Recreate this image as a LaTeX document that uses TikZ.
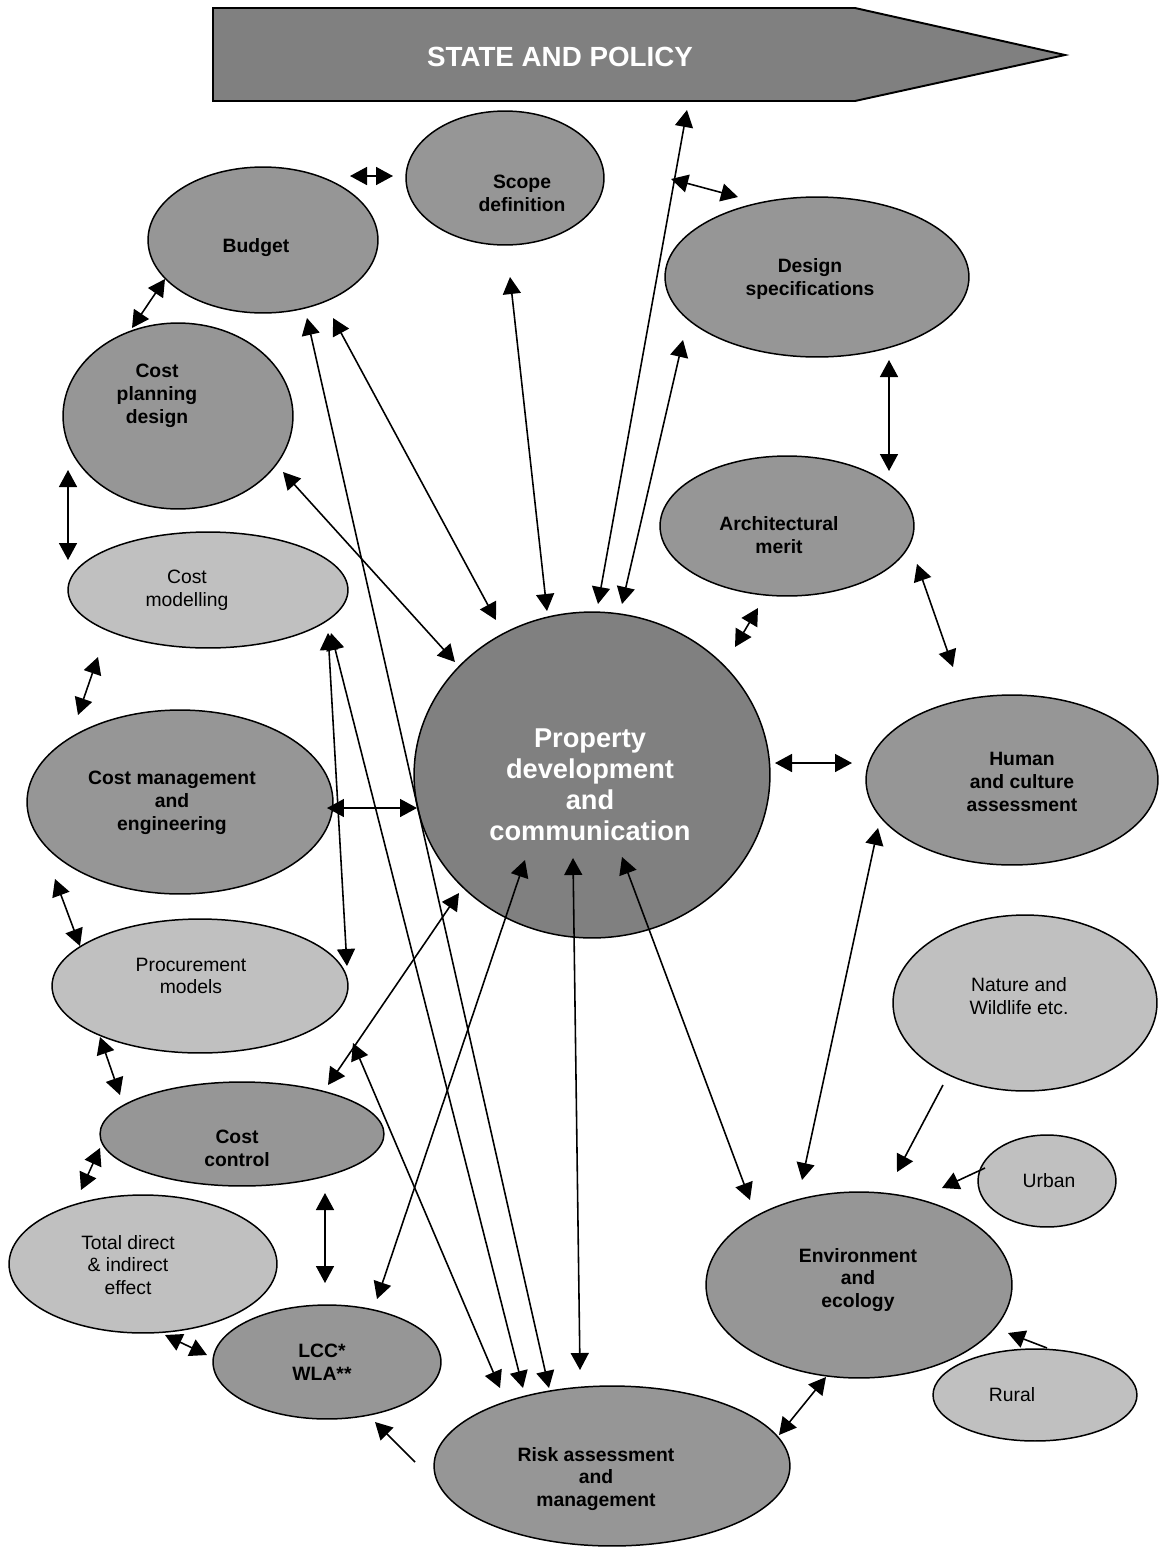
\documentclass[tikz,border=0pt]{standalone}
\usepackage{fontspec}
\setmainfont{Liberation Sans}
\usetikzlibrary{arrows.meta,shapes.geometric}

\definecolor{dkgray}{HTML}{969696}
\definecolor{mdgray}{HTML}{808080}
\definecolor{ltgray}{HTML}{C0C0C0}

\tikzset{
  oval/.style 2 args={ellipse, draw=black, line width=0.85pt, inner sep=0pt,
    minimum width=#1*0.04cm, minimum height=#2*0.04cm},
  dk/.style={fill=dkgray},
  md/.style={fill=mdgray},
  lt/.style={fill=ltgray},
  bl/.style={font=\fontsize{11}{13}\selectfont\bfseries, align=center, inner sep=0pt},
  rg/.style={font=\fontsize{11}{13}\selectfont, align=center, inner sep=0pt},
  tip/.tip={Triangle[length=0.34cm,width=0.36cm]},
  both/.style={tip-tip, line width=0.9pt},
  one/.style={-tip, line width=0.9pt},
}

\begin{document}
\begin{tikzpicture}[x=0.02cm, y=-0.02cm]
\useasboundingbox (0,0) rectangle (1160,1549);
\fill[white] (0,0) rectangle (1160,1549);

% banner
\draw[fill=mdgray, line width=1.1pt, line join=miter]
  (213,8) -- (855,8) -- (1065,55) -- (855,101) -- (213,101) -- cycle;
\node[font=\fontsize{15.8}{18}\selectfont\bfseries, text=white] (state) at (560,57) {STATE AND POLICY};

% ellipses
\node[oval={115}{73}, dk] (budget) at (263,240) {};
\node[oval={99}{67}, dk] (scope) at (505,178) {};
\node[oval={152}{80}, dk] (design) at (817,277) {};
\node[oval={115}{93}, dk] (costplan) at (178,416) {};
\node[oval={127}{70}, dk] (arch) at (787,526) {};
\node[oval={140}{58}, lt] (costmod) at (208,590) {};
\node[oval={178}{163}, md] (prop) at (592,775) {};
\node[oval={146}{85}, dk] (human) at (1012,780) {};
\node[oval={153}{92}, dk] (costmgmt) at (180,802) {};
\node[oval={148}{67}, lt] (procure) at (200,986) {};
\node[oval={132}{88}, lt] (nature) at (1025,1003) {};
\node[oval={142}{52}, dk] (costctrl) at (242,1134) {};
\node[oval={69}{46}, lt] (urban) at (1047,1181) {};
\node[oval={134}{69}, lt] (total) at (143,1264) {};
\node[oval={153}{93}, dk] (env) at (859,1285) {};
\node[oval={114}{57}, dk] (lcc) at (327,1362) {};
\node[oval={102}{46}, lt] (rural) at (1035,1395) {};
\node[oval={178}{80}, dk] (risk) at (612,1466) {};

% labels
\node[bl] (budget-l) at (256,248) {Budget};
\node[bl] (scope-l) at (522,193) {Scope\\definition};
\node[bl] (design-l) at (810,279) {Design\\specifications};
\node[bl] (costplan-l) at (157,396) {Cost\\planning\\design};
\node[bl] (arch-l) at (779,535) {Architectural\\merit};
\node[rg] (costmod-l) at (187,590) {Cost\\modelling};
\node[bl, text=white, font=\fontsize{15.5}{17.6}\selectfont\bfseries] (prop-l) at (590,785)
  {Property\\development\\and\\communication};
\node[bl] (human-l) at (1022,782) {Human\\and culture\\assessment};
\node[bl] (costmgmt-l) at (172,803) {Cost management\\and\\engineering};
\node[rg] (procure-l) at (191,976) {Procurement\\models};
\node[rg] (nature-l) at (1019,996) {Nature and\\Wildlife etc.};
\node[bl] (costctrl-l) at (237,1148) {Cost\\control};
\node[rg] (urban-l) at (1049,1181) {Urban};
\node[rg] (total-l) at (128,1265) {Total direct\\\& indirect\\effect};
\node[bl] (env-l) at (858,1280) {Environment\\and\\ecology};
\node[bl] (lcc-l) at (322,1362) {LCC*\\WLA**};
\node[rg] (rural-l) at (1012,1395) {Rural};
\node[bl] (risk-l) at (596,1479) {Risk assessment\\and\\management};

% links between neighbouring topics
\draw[both] ([shift={(87,-64)}]budget.center) -- ([shift={(-112,-2)}]scope.center);
\draw[both] ([shift={(166,1)}]scope.center) -- ([shift={(-79,-80)}]design.center);
\draw[both] ([shift={(-98,39)}]budget.center) -- ([shift={(-46,-88)}]costplan.center);
\draw[both] ([shift={(-110,54)}]costplan.center) -- ([shift={(-140,-30)}]costmod.center);
\draw[both] ([shift={(-110,67)}]costmod.center) -- ([shift={(-102,-87)}]costmgmt.center);
\draw[both] ([shift={(-125,77)}]costmgmt.center) -- ([shift={(-120,-40)}]procure.center);
\draw[both] ([shift={(-100,51)}]procure.center) -- ([shift={(-122,-39)}]costctrl.center);
\draw[both] ([shift={(-142,14)}]costctrl.center) -- ([shift={(-62,-74)}]total.center);
\draw[both] ([shift={(22,71)}]total.center) -- ([shift={(-120,-7)}]lcc.center);
\draw[both] ([shift={(83,59)}]costctrl.center) -- ([shift={(-2,-79)}]lcc.center);
\draw[both] ([shift={(72,83)}]design.center) -- ([shift={(102,-55)}]arch.center);
\draw[both] ([shift={(130,38)}]arch.center) -- ([shift={(-59,-113)}]human.center);
\draw[both] ([shift={(-29,82)}]arch.center) -- ([shift={(143,-128)}]prop.center);
\draw[both] ([shift={(183,-12)}]prop.center) -- ([shift={(-160,-17)}]human.center);
\draw[both] ([shift={(-134,48)}]human.center) -- ([shift={(-57,-105)}]env.center);
\draw[both] ([shift={(-33,92)}]env.center) -- ([shift={(167,-31)}]risk.center);

% feeders into environment and LCC
\draw[one] ([shift={(-82,82)}]nature.center) -- ([shift={(38,-113)}]env.center);
\draw[one] ([shift={(-62,-13)}]urban.center) -- ([shift={(83,-97)}]env.center);
\draw[one] ([shift={(12,-47)}]rural.center) -- ([shift={(149,48)}]env.center);
\draw[one] ([shift={(-197,-4)}]risk.center) -- ([shift={(48,60)}]lcc.center);

% spokes of the central topic
\draw[both] ([shift={(30,82)}]prop.center) -- ([shift={(-109,-85)}]env.center);
\draw[both] ([shift={(-19,83)}]prop.center) -- ([shift={(-32,-96)}]risk.center);
\draw[both] ([shift={(-67,85)}]prop.center) -- ([shift={(50,-63)}]lcc.center);
\draw[both] ([shift={(-133,118)}]prop.center) -- ([shift={(86,-49)}]costctrl.center);
\draw[both] ([shift={(147,6)}]costmgmt.center) -- ([shift={(-175,33)}]prop.center);
\draw[both] ([shift={(105,56)}]costplan.center) -- ([shift={(-137,-113)}]prop.center);
\draw[both] ([shift={(70,78)}]budget.center) -- ([shift={(-96,-155)}]prop.center);
\draw[both] ([shift={(5,99)}]scope.center) -- ([shift={(-45,-164)}]prop.center);
\draw[both] ([shift={(127,53)}]state.center) -- ([shift={(6,-171)}]prop.center);
\draw[both] ([shift={(-134,63)}]design.center) -- ([shift={(30,-171)}]prop.center);

% long cross links down to risk and procurement
\draw[both] ([shift={(120,43)}]costmod.center) -- ([shift={(147,-20)}]procure.center);
\draw[both] ([shift={(123,43)}]costmod.center) -- ([shift={(-89,-78)}]risk.center);
\draw[both] ([shift={(44,78)}]budget.center) -- ([shift={(-63,-78)}]risk.center);
\draw[both] ([shift={(153,57)}]procure.center) -- ([shift={(-112,-78)}]risk.center);
\end{tikzpicture}
\end{document}
